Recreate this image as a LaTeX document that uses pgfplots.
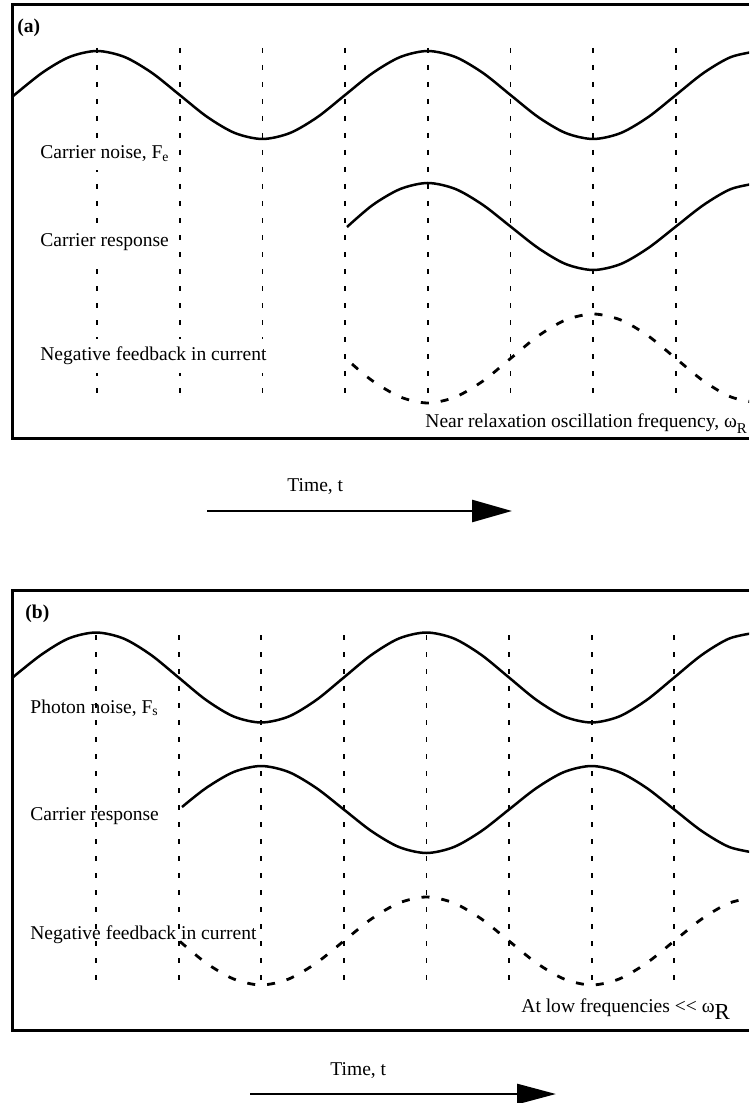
\documentclass[border=0pt]{standalone}
\usepackage{fontspec}
\setmainfont{Liberation Serif}
\usepackage{pgfplots}
\pgfplotsset{compat=1.18}
\usetikzlibrary{arrows.meta}

% everything is placed in pixel units of the original scan (y downwards)
\tikzset{
  wave/.style={smooth, line width=1.25bp},
  fb/.style={smooth, line width=1.4bp, dash pattern=on 4bp off 6bp},
  guide/.style={line width=0.9bp, dash pattern=on 2.5bp off 6bp},
  frame/.style={line width=1.5bp, line join=miter},
  lbl/.style={anchor=base west, inner sep=0pt, font=\fontsize{9.8}{11}\selectfont},
  boxed/.style={lbl, fill=white, inner ysep=4bp},
  timearrow/.style={line width=1.35bp},
}

\begin{document}
\begin{tikzpicture}
\begin{axis}[
    x=0.5bp, y=0.5bp, y dir=reverse,
    xmin=0, xmax=749, ymin=0, ymax=1103,
    hide axis,
    every axis plot/.append style={black, no marks},
]
\path (axis cs:0,0) rectangle (axis cs:749,1103);

% ---------------- panel (a) ----------------
\draw[frame] (axis cs:749,5) -- (axis cs:12,5) -- (axis cs:12,438) -- (axis cs:749,438);
\pgfplotsinvokeforeach{97,179.7,262.4,345.1,427.8,510.5,593.2,675.9}{
  \addplot[guide] coordinates {(#1,48) (#1,405)};
}
% carrier noise
\addplot[wave] coordinates {
 (12,97) (41.9,73) (69.4,57) (97,51) (124.6,57) (152.1,73) (179.7,95)
 (207.3,117) (234.8,133) (262.4,139) (290,133) (317.6,117) (345.1,95)
 (372.7,73) (400.3,57) (427.8,51) (455.4,57) (483,73) (510.5,95)
 (538.1,117) (565.6,133) (593.2,139) (620.8,133) (648.3,117) (675.9,95)
 (703.5,73) (731,57) (758.6,51)
};
% carrier response
\addplot[wave] coordinates {
 (347,227) (372.7,205) (400.3,189) (427.8,183) (455.4,189) (483,205)
 (510.5,226.5) (538.1,248) (565.6,264) (593.2,270) (620.8,264) (648.3,248)
 (675.9,226.5) (703.5,205) (731,189) (758.6,183)
};
% negative feedback
\addplot[fb] coordinates {
 (352,364) (372.7,381) (400.3,397) (427.8,403) (455.4,397) (483,381)
 (510.5,358.5) (538.1,336) (565.6,320) (593.2,314) (620.8,320) (648.3,336)
 (675.9,358.5) (703.5,381) (731,397) (758.6,403)
};

\node[lbl] at (axis cs:17,33) {\textbf{(a)}};
\node[boxed] at (axis cs:40,159) {Carrier noise, F\textsubscript{e}};
\node[boxed] at (axis cs:40,247) {Carrier response};
\node[boxed] at (axis cs:40,361) {Negative feedback in current};
\node[lbl] at (axis cs:425,428) {Near relaxation oscillation frequency, ω\raisebox{-3bp}{\fontsize{7.5}{8}\selectfont R}};

\node[lbl] at (axis cs:287,491) {Time, t};
\draw[timearrow, -{Triangle[length=20bp, width=11bp]}] (axis cs:207,511) -- (axis cs:512,511);

% ---------------- panel (b) ----------------
\draw[frame] (axis cs:749,590) -- (axis cs:12,590) -- (axis cs:12,1030) -- (axis cs:749,1030);
\pgfplotsinvokeforeach{96,178.6,261.2,343.8,426.4,509,591.6,674.2}{
  \addplot[guide] coordinates {(#1,635) (#1,986)};
}
% photon noise
\addplot[wave] coordinates {
 (12,678) (40.9,655) (68.5,638.5) (96,632.5) (123.5,638.5) (151.1,655)
 (178.6,677.5) (206.1,700) (233.7,716.5) (261.2,722.5) (288.7,716.5)
 (316.3,700) (343.8,677.5) (371.3,655) (398.9,638.5) (426.4,632.5)
 (453.9,638.5) (481.5,655) (509,677.5) (536.5,700) (564.1,716.5)
 (591.6,722.5) (619.1,716.5) (646.7,700) (674.2,677.5) (701.7,655)
 (729.3,638.5) (756.8,632.5)
};
% carrier response
\addplot[wave] coordinates {
 (182,807) (206.1,788) (233.7,772) (261.2,766) (288.7,772) (316.3,788)
 (343.8,809.5) (371.3,831) (398.9,847) (426.4,853) (453.9,847) (481.5,831)
 (509,809.5) (536.5,788) (564.1,772) (591.6,766) (619.1,772) (646.7,788)
 (674.2,809.5) (701.7,831) (729.3,847) (756.8,853)
};
% negative feedback
\addplot[fb] coordinates {
 (180,941.5) (206.1,963) (233.7,979) (261.2,985) (288.7,979) (316.3,963)
 (343.8,941) (371.3,919) (398.9,903) (426.4,897) (453.9,903) (481.5,919)
 (509,941) (536.5,963) (564.1,979) (591.6,985) (619.1,979) (646.7,963)
 (674.2,941) (701.7,919) (729.3,903) (756.8,897)
};

\node[lbl] at (axis cs:25,618) {\textbf{(b)}};
\node[lbl] at (axis cs:30,713) {Photon noise, F\textsubscript{s}};
\node[lbl] at (axis cs:30,820) {Carrier response};
\node[lbl] at (axis cs:30,939) {Negative feedback in current};
\node[lbl] at (axis cs:521,1012) {At low frequencies {<}{<} ω\raisebox{-3.5bp}{\fontsize{11.5}{12}\selectfont R}};

\node[lbl] at (axis cs:330,1075) {Time, t};
\draw[timearrow, -{Triangle[length=19.5bp, width=10bp]}] (axis cs:250,1094) -- (axis cs:556,1094);
\end{axis}
\end{tikzpicture}
\end{document}
